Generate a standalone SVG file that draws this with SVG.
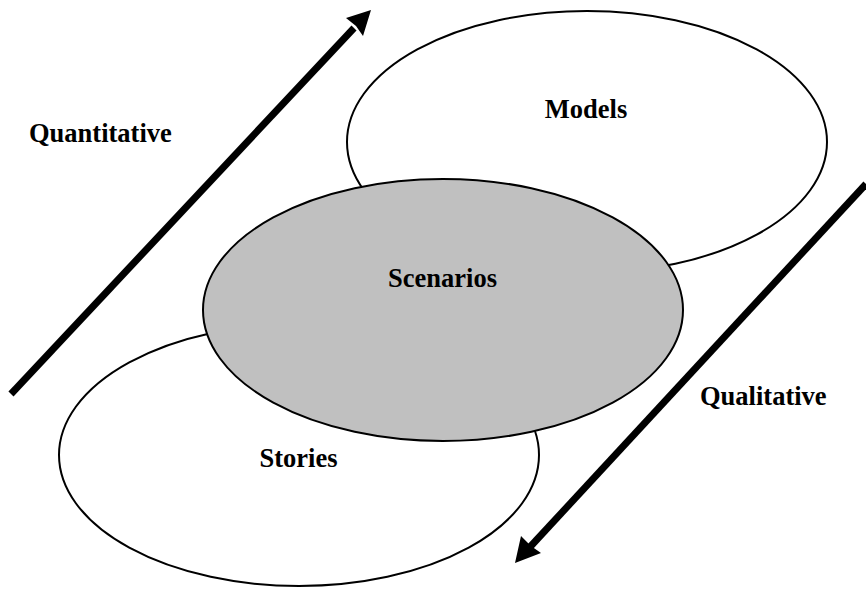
<svg xmlns="http://www.w3.org/2000/svg" width="866" height="589" viewBox="0 0 866 589">
<style>
.e{stroke:#000;stroke-width:2;fill:#fff}
.t{font-family:"Liberation Serif","Times New Roman",serif;font-weight:bold;font-size:26.5px;fill:#000}
.a{stroke:#000;stroke-width:7;fill:none}
</style>
<rect width="866" height="589" fill="#fff"/>
<g id="models"><ellipse class="e" cx="587" cy="142" rx="240" ry="131"/><text class="t" x="586" y="118" text-anchor="middle">Models</text></g>
<g id="stories"><ellipse class="e" cx="299" cy="455" rx="240" ry="131"/><text class="t" x="298.5" y="467" text-anchor="middle">Stories</text></g>
<g id="scenarios"><ellipse class="e" cx="443" cy="310" rx="240" ry="131" style="fill:#c0c0c0"/><text class="t" x="442.5" y="287" text-anchor="middle">Scenarios</text></g>
<g id="labels"><text class="t" x="29" y="142">Quantitative</text><text class="t" x="700" y="405">Qualitative</text></g>
<g id="connectors">
<line class="a" x1="11" y1="394" x2="354" y2="28"/>
<polygon points="371,10 346,18 356,26 363,36" fill="#000"/>
<line class="a" x1="866" y1="184" x2="530" y2="547"/>
<polygon points="515,563 521,536 531,546 541,553" fill="#000"/>
</g>
</svg>
